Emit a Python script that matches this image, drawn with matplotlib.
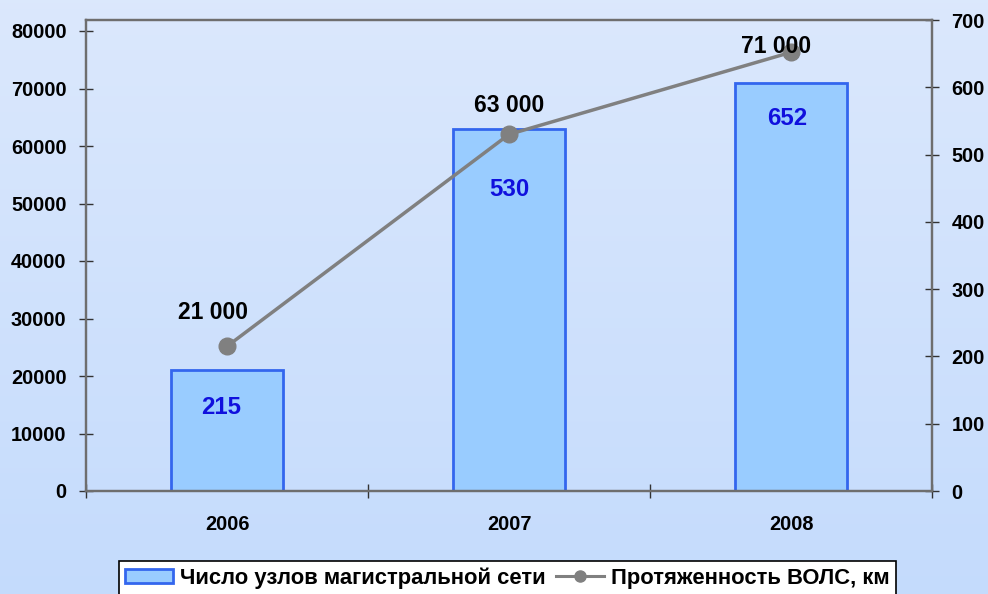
import matplotlib.pyplot as plt
from matplotlib.patches import Patch
from matplotlib.lines import Line2D
import numpy as np

plt.rcParams['font.family'] = ['Liberation Sans', 'DejaVu Sans']
plt.rcParams['font.weight'] = 'bold'

years = ["2006", "2007", "2008"]
nodes = [21000, 63000, 71000]        # bars, left axis
fiber_km = [215, 530, 652]           # line, right axis
bar_labels = ["215", "530", "652"]
line_labels = ["21 000", "63 000", "71 000"]

fig = plt.figure(figsize=(9.88, 5.94), dpi=100)

# gradient background
bg = fig.add_axes([0, 0, 1, 1], zorder=-10)
top = np.array([0.86, 0.91, 0.99])
bot = np.array([0.77, 0.86, 0.99])
t = np.linspace(0, 1, 256)[:, None]
grad = (top * (1 - t) + bot * t)[:, None, :]
bg.imshow(grad, aspect='auto', extent=[0, 1, 0, 1])
bg.axis('off')

ax = fig.add_axes([86 / 988, 103 / 594, 846 / 988, 471 / 594])
ax.patch.set_alpha(0)
x = np.arange(len(years))

ax.bar(x, nodes, width=0.4, color="#99ccff", edgecolor="#3366ee", linewidth=2, zorder=2)
bar_offs = [(-6, -37), (0, -61), (-4, -36)]
for xi, v, lab in zip(x, nodes, bar_labels):
    ax.annotate(lab, (xi, v), xytext=bar_offs[xi], textcoords='offset pixels',
                ha='center', va='center', color="#1010dd", fontsize=17.3, fontweight='bold')

ax.set_xlim(-0.5, 2.5)
ax.set_ylim(0, 80000 * 471 / 460)
ax.set_yticks(np.arange(0, 80001, 10000))
ax.set_xticks(x)
ax.set_xticklabels(years)
ax.set_xticks([-0.5, 0.5, 1.5, 2.5], minor=True)
ax.tick_params(axis='x', which='major', length=0, pad=17, labelsize=14.3)
ax.tick_params(axis='x', which='minor', length=10, direction='inout', color='#333333', width=1)
ax.tick_params(axis='y', length=10, direction='inout', color='#333333', width=1,
               labelsize=14.3, pad=9)

ax2 = ax.twinx()
ax2.plot(x, fiber_km, color="#808080", linewidth=2.5, marker='o', markersize=12, zorder=3)
offs = [(-14, 34), (0, 29), (-15, 6)]
for xi, v, lab in zip(x, fiber_km, line_labels):
    ax2.annotate(lab, (xi, v), xytext=offs[xi], textcoords='offset pixels',
                 ha='center', va='center', color="black", fontsize=16.5, fontweight='bold')
ax2.set_ylim(0, 700)
ax2.set_yticks(np.arange(0, 701, 100))
ax2.tick_params(axis='y', length=10, direction='inout', color='#333333', width=1,
                labelsize=14.3, pad=9)

for a in (ax, ax2):
    for s in a.spines.values():
        s.set_color("#6e6e6e")
        s.set_linewidth(1.6)

handles = [Patch(facecolor="#99ccff", edgecolor="#3366ee", linewidth=2),
           Line2D([], [], color="#808080", linewidth=2.2, marker='o', markersize=8)]
leg = fig.legend(handles, ["Число узлов магистральной сети", "Протяженность ВОЛС, км"],
                 loc='upper center', bbox_to_anchor=(507.5 / 988, 1 - 561 / 594), ncol=2,
                 frameon=True, fancybox=False, edgecolor='black', facecolor='white',
                 framealpha=1, fontsize=15.8, handlelength=2.2, handleheight=0.65,
                 handletextpad=0.32, columnspacing=0.46, borderpad=0.28, borderaxespad=0)
leg.get_frame().set_linewidth(1.2)

fig.savefig("out.png", dpi=100)
